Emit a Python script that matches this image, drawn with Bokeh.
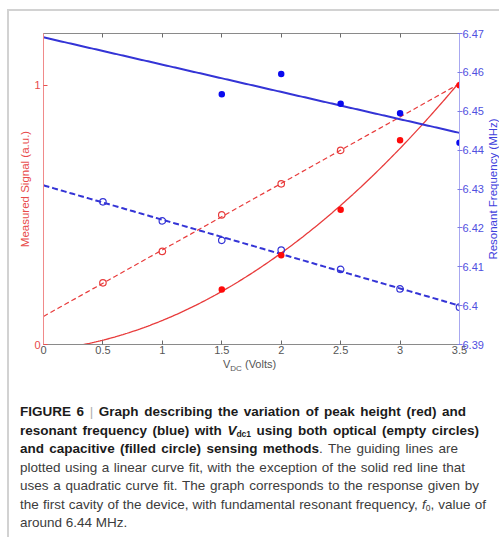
import numpy as np
from bokeh.plotting import figure
from bokeh.models import Range1d, LinearAxis, FixedTicker, Div
from bokeh.layouts import column, row
from bokeh.core.properties import value
from bokeh.embed import file_html
from bokeh.resources import INLINE

# ---------------- data ----------------
v_opt = [0.5, 1.0, 1.5, 2.0, 2.5]
signal_opt = [0.238, 0.359, 0.500, 0.620, 0.749]
v_cap = [1.5, 2.0, 2.5, 3.0, 3.5]
signal_cap = [0.212, 0.344, 0.520, 0.788, 1.000]
v_freq_opt = [0.5, 1.0, 1.5, 2.0, 2.5, 3.0, 3.5]
freq_opt = [6.4267, 6.4218, 6.4168, 6.4143, 6.4093, 6.4043, 6.3996]
v_freq_cap = [1.5, 2.0, 2.5, 3.0, 3.5]
freq_cap = [6.4544, 6.4596, 6.4519, 6.4495, 6.4419]

x_ticks = [0, 0.5, 1, 1.5, 2, 2.5, 3, 3.5]
x_tick_labels = ["0", "0.5", "1", "1.5", "2", "2.5", "3", "3.5"]
signal_ticks = [0, 1]
signal_tick_labels = ["0", "1"]
freq_ticks = [6.39, 6.40, 6.41, 6.42, 6.43, 6.44, 6.45, 6.46, 6.47]
freq_tick_labels = ["6.39", "6.4", "6.41", "6.42", "6.43", "6.44", "6.45", "6.46", "6.47"]

SUB = '<sub style="font-size:8.5px;line-height:0;vertical-align:-2px">%s</sub>'
B = '<b style="color:#1b1b1b">%s</b>'
caption_lines = [
    B % 'FIGURE 6' + ' <span style="color:#b0b0b0">|</span> '
    + B % 'Graph describing the variation of peak height (red) and',
    B % ('resonant frequency (blue) with <i>V</i>' + SUB % 'dc1' + ' using both optical (empty circles)'),
    B % 'and capacitive (filled circle) sensing methods' + '. The guiding lines are',
    'plotted using a linear curve fit, with the exception of the solid red line that',
    'uses a quadratic curve fit. The graph corresponds to the response given by',
    'the first cavity of the device, with fundamental resonant frequency, '
    '<i>f</i>' + SUB % '0' + ', value of',
    'around 6.44 MHz.',
]
caption_line_widths = [446, 459, 438, 445, 459, 466, None]

# ---------------- fits ----------------
x_fit = np.linspace(0, 3.5, 200)
red_lin = np.polyval(np.polyfit(v_opt, signal_opt, 1), x_fit)
red_quad = np.polyval(np.polyfit(v_cap, signal_cap, 2), x_fit)
blue_solid = np.polyval(np.polyfit(v_freq_cap, freq_cap, 1), x_fit)
blue_dash = np.polyval(np.polyfit(v_freq_opt, freq_opt, 1), x_fit)

RED = "#e83c3c"
RED_DOT = "#ff0a0a"
BLUE = "#3434d6"
BLUE_DOT = "#0a0aee"
FONT = "Liberation Sans"
FIG_H = 347

p = figure(width=477, height=FIG_H, x_range=Range1d(0, 3.5), y_range=Range1d(0, 1.2),
           output_backend="svg", toolbar_location=None,
           min_border_left=34, min_border_right=25, min_border_top=22, min_border_bottom=14)
p.extra_y_ranges = {"freq": Range1d(6.39, 6.47)}
p.xgrid.visible = False
p.ygrid.visible = False
p.outline_line_color = None
p.background_fill_color = "white"
p.border_fill_color = "white"

# bottom axis
xa = p.xaxis[0]
xa.ticker = FixedTicker(ticks=x_ticks)
xa.major_label_overrides = dict(zip(x_ticks, x_tick_labels))
xa.axis_line_color = "#8a8a8a"
xa.major_tick_line_color = "#6a6a6a"
xa.major_tick_in = 4
xa.major_tick_out = 0
xa.minor_tick_line_color = None
xa.major_label_text_font = FONT
xa.major_label_text_font_size = "11px"
xa.major_label_text_color = "#555555"
xa.major_label_standoff = 1

# left axis
ya = p.yaxis[0]
ya.ticker = FixedTicker(ticks=signal_ticks)
ya.major_label_overrides = dict(zip(signal_ticks, signal_tick_labels))
ya.axis_line_color = "#f08a8a"
ya.major_tick_line_color = "#e85050"
ya.major_tick_in = 4
ya.major_tick_out = 0
ya.minor_tick_line_color = None
ya.major_label_text_font = FONT
ya.major_label_text_font_size = "11px"
ya.major_label_text_color = "#e84a4a"
ya.major_label_standoff = 3
ya.axis_label = "Measured Signal (a.u.)"
ya.axis_label_text_font = FONT
ya.axis_label_text_font_size = "11.5px"
ya.axis_label_text_font_style = "normal"
ya.axis_label_text_color = "#e84a4a"
ya.axis_label_standoff = 0

# top axis (ticks only)
ta = LinearAxis(ticker=FixedTicker(ticks=x_ticks))
ta.major_label_overrides = {t: "" for t in x_ticks}
ta.major_label_text_font_size = "1px"
ta.axis_line_color = "#8a8a8a"
ta.major_tick_line_color = "#6a6a6a"
ta.major_tick_in = 4
ta.major_tick_out = 0
ta.minor_tick_line_color = None
p.add_layout(ta, "above")

# right axis
ra = LinearAxis(y_range_name="freq", ticker=FixedTicker(ticks=freq_ticks))
ra.major_label_overrides = dict(zip(freq_ticks, freq_tick_labels))
ra.axis_line_color = "#a8a8f0"
ra.major_tick_line_color = "#7a7ae6"
ra.major_tick_in = 2
ra.major_tick_out = 3
ra.minor_tick_line_color = None
ra.major_label_text_font = FONT
ra.major_label_text_font_size = "11px"
ra.major_label_text_color = "#5050e0"
ra.major_label_standoff = 0
p.add_layout(ra, "right")

# lines
p.line(x_fit, red_lin, color=RED, line_width=1.2, line_dash="5 3")
p.line(x_fit, red_quad, color=RED, line_width=1.3)
p.line(x_fit, blue_dash, y_range_name="freq", color=BLUE, line_width=2, line_dash="6 3")
p.line(x_fit, blue_solid, y_range_name="freq", color=BLUE, line_width=2)

# markers
p.scatter(v_opt, signal_opt, marker="circle", size=6.5, fill_color=None,
          line_color=RED, line_width=1.2)
p.scatter(v_freq_opt, freq_opt, marker="circle", size=6.5, fill_color=None,
          line_color=BLUE, line_width=1.2, y_range_name="freq")
p.scatter(v_cap, signal_cap, marker="circle", size=6.5, fill_color=RED_DOT,
          line_color=None)
p.scatter(v_freq_cap, freq_cap, marker="circle", size=6.5, fill_color=BLUE_DOT,
          line_color=None, y_range_name="freq")

# right-hand axis title (reads bottom to top) in a narrow strip figure
t = figure(width=13, height=FIG_H, x_range=Range1d(0, 1), y_range=Range1d(0, 1.2),
           x_axis_type=None, y_axis_type=None, output_backend="svg", toolbar_location=None,
           min_border_left=0, min_border_right=0, min_border_top=22, min_border_bottom=14)
t.xgrid.visible = False
t.ygrid.visible = False
t.outline_line_color = None
t.border_fill_color = "white"
t.text(x=[0.5], y=[0.6], text=["Resonant Frequency (MHz)"], angle=np.pi / 2,
       text_align="center", text_baseline="middle", text_font=value(FONT),
       text_font_size="11.5px", text_color="#4040dc")

xlabel_html = ('<div style="position:absolute;left:214px;top:0px;font-size:11px;line-height:12.5px;'
               'color:#555555;white-space:nowrap;">V<sub style="font-size:8px;line-height:0;'
               'vertical-align:-3px">DC</sub> (Volts)</div>')

line_divs = []
for html, w in zip(caption_lines, caption_line_widths):
    if w is None:
        line_divs.append('<div style="white-space:nowrap;">%s</div>' % html)
    else:
        line_divs.append('<div style="width:%dpx;text-align:justify;text-align-last:justify;">%s</div>'
                         % (w, html))
caption_html = ('<div style="position:absolute;left:11px;top:45px;font-size:13.5px;line-height:18.5px;'
                'color:#3c3c3c;">' + "".join(line_divs) + '</div>')
DIV_H = 537 - 9 - 2 - FIG_H
div_html = ('<div style="position:relative;width:488px;height:%dpx;overflow:hidden;'
            'font-family:\'Liberation Sans\',Arial,sans-serif;">' % DIV_H
            + xlabel_html + caption_html + '</div>')
cap = Div(text=div_html, width=488, height=DIV_H, margin=0)

layout = column(row(p, t, spacing=0), cap, spacing=0, margin=(9, 0, 0, 7),
                styles={"border-left": "2px solid #d2d2d2", "border-top": "2px solid #d2d2d2"})

open("out.html", "w").write(file_html(layout, INLINE))
